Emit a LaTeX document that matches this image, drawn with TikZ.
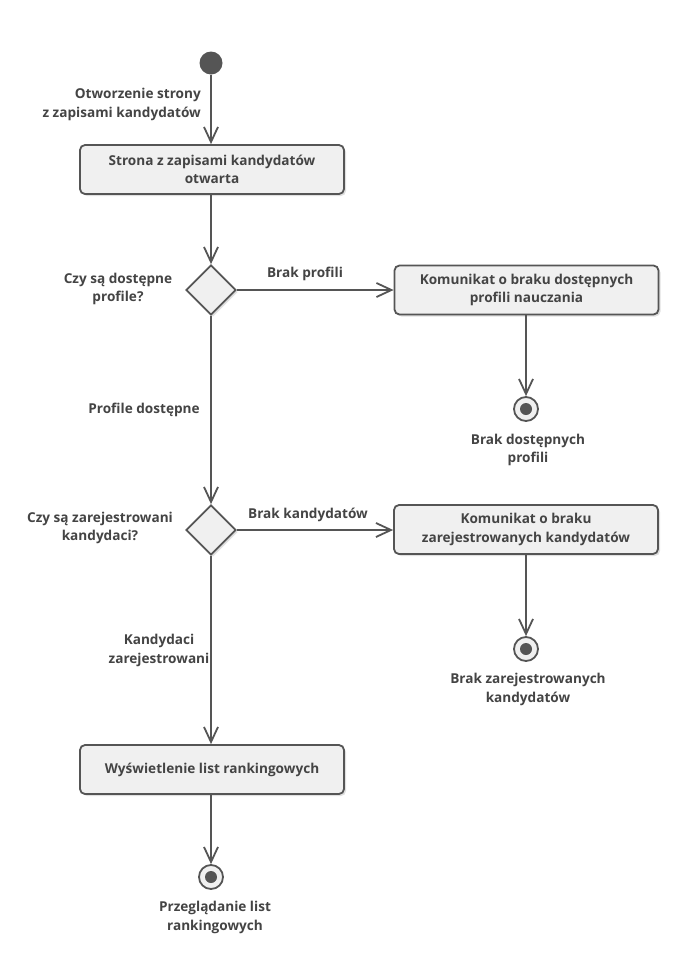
\documentclass[tikz,border=0pt]{standalone}
\usepackage{fontspec}
\setmainfont{Open Sans}
\usetikzlibrary{shapes.geometric,arrows.meta,shadows}
\definecolor{ln}{HTML}{555555}
\definecolor{tx}{HTML}{444444}
\definecolor{bx}{HTML}{F0F0F0}
\tikzset{
  every node/.style={font=\bfseries\fontsize{13.6}{18.5}\selectfont, text=tx},
  act/.style={draw=ln, line width=1.8pt, fill=bx, rounded corners=5pt, minimum width=264pt, minimum height=49pt, align=center, inner sep=0pt,
    drop shadow={shadow xshift=2pt, shadow yshift=-2pt, opacity=0.12, fill=black}},
  dec/.style={diamond, draw=ln, line width=1.8pt, fill=bx, minimum width=50pt, minimum height=50pt, inner sep=0pt,
    drop shadow={shadow xshift=2pt, shadow yshift=-2pt, opacity=0.12, fill=black}},
  startnode/.style={circle, fill=ln, minimum size=23pt, inner sep=0pt},
  endnode/.style={circle, draw=ln, line width=1.8pt, fill=bx, minimum size=24pt, inner sep=0pt,
    path picture={\fill[ln] (path picture bounding box.center) circle (6pt);}},
  lbl/.style={align=center, inner sep=0pt},
  flow/.style={draw=ln, line width=1.8pt, -{Straight Barb[length=15pt,width=14pt,line width=1.8pt]}},
  plain/.style={draw=ln, line width=1.8pt}
}
\begin{document}
\begin{tikzpicture}[x=1pt,y=-1pt]
\useasboundingbox (0,0) rectangle (678,954);
\fill[white] (0,0) rectangle (678,954);

\node[startnode] (start) at (211,63) {};
\node[act] (b1) at (212,169.5) {Strona z zapisami kandydatów\\otwarta};
\node[dec] (d1) at (211,290) {};
\node[act] (b2) at (526.5,290) {Komunikat o braku dostępnych\\profili nauczania};
\node[endnode] (e1) at (526,409) {};
\node[dec] (d2) at (211,530) {};
\node[act] (b3) at (526,529.5) {Komunikat o braku\\zarejestrowanych kandydatów};
\node[endnode] (e2) at (526,649) {};
\node[act] (b4) at (212,769.5) {Wyświetlenie list rankingowych};
\node[endnode] (e3) at (211,877) {};

% labels
\node[lbl, align=right, anchor=east] (l0) at (201,104.5) {Otworzenie strony\\z zapisami kandydatów};
\node[lbl, align=center] (l1) at (118,289) {Czy są dostępne\\profile?};
\node[lbl] (l2) at (305,274) {Brak profili};
\node[lbl] (l3) at (528,450) {Brak dostępnych\\profili};
\node[lbl] (l4) at (144,410) {Profile dostępne};
\node[lbl] (l5) at (100,528) {Czy są zarejestrowani\\kandydaci?};
\node[lbl] (l6) at (308,515) {Brak kandydatów};
\node[lbl] (l7) at (528,689.5) {Brak zarejestrowanych\\kandydatów};
\node[lbl] (l8) at (159,650.5) {Kandydaci\\zarejestrowani};
\node[lbl] (l9) at (215,917.5) {Przeglądanie list\\rankingowych};

% connectors
\draw[flow] (start) -- (start |- b1.north);
\draw[flow] (b1.south -| d1) -- (d1.north);
\draw[flow] (d1.east) -- (b2.west);
\draw[flow] (b2.south -| e1) -- (e1.north);
\draw[flow] (d1.south) -- (d2.north);
\draw[flow] (d2.east) -- (b3.west |- d2);
\draw[flow] (b3.south -| e2) -- (e2.north);
\draw[flow] (d2.south) -- (d2 |- b4.north);
\draw[flow] (b4.south -| e3) -- (e3.north);
\end{tikzpicture}
\end{document}
